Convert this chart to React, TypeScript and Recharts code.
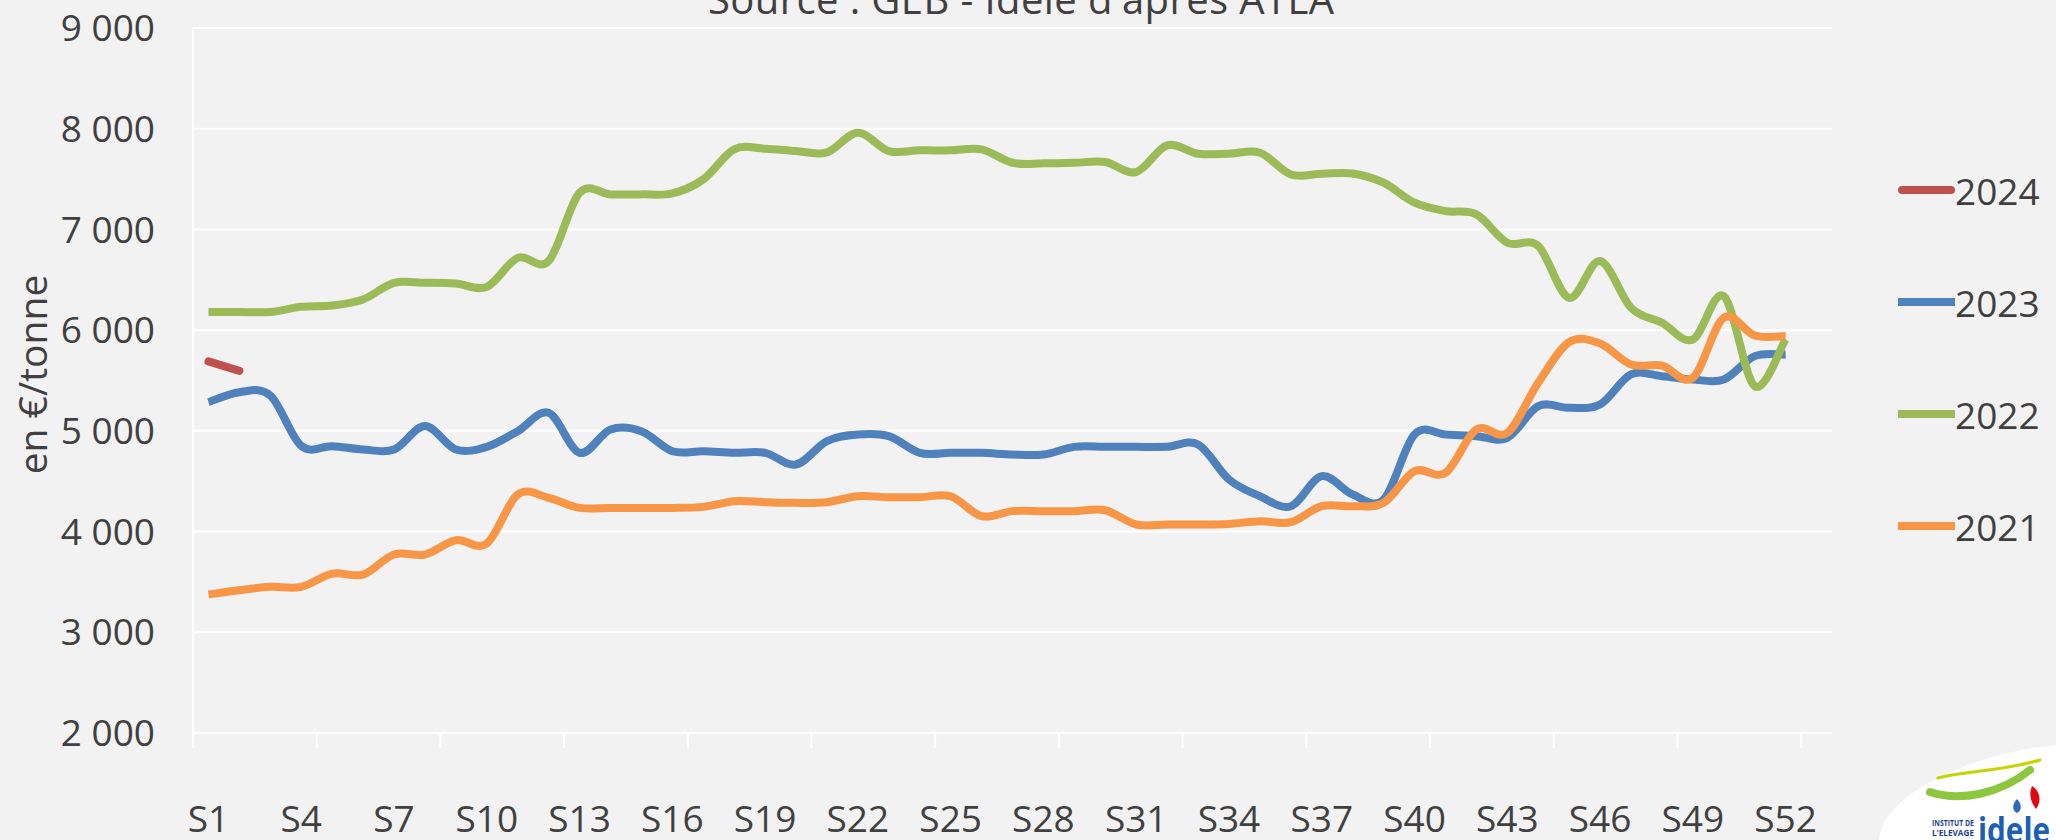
import React from 'react';
import { LineChart, Line, XAxis, YAxis, CartesianGrid, Legend } from 'recharts';

const weeks = [
  'S1', 'S2', 'S3', 'S4', 'S5', 'S6', 'S7', 'S8', 'S9', 'S10',
  'S11', 'S12', 'S13', 'S14', 'S15', 'S16', 'S17', 'S18', 'S19', 'S20',
  'S21', 'S22', 'S23', 'S24', 'S25', 'S26', 'S27', 'S28', 'S29', 'S30',
  'S31', 'S32', 'S33', 'S34', 'S35', 'S36', 'S37', 'S38', 'S39', 'S40',
  'S41', 'S42', 'S43', 'S44', 'S45', 'S46', 'S47', 'S48', 'S49', 'S50',
  'S51', 'S52', 'S53',
];

const v2024 = [5690, 5595];

const v2023 = [
  5285, 5384, 5351, 4850, 4848, 4815, 4815, 5047, 4815, 4841,
  4997, 5179, 4782, 5014, 4997, 4798, 4798, 4782, 4782, 4666,
  4898, 4964, 4947, 4782, 4782, 4782, 4765, 4765, 4841, 4841,
  4841, 4841, 4865, 4517, 4351, 4252, 4550, 4368, 4318, 4964,
  4964, 4947, 4931, 5245, 5229, 5262, 5560, 5543, 5510, 5510,
  5742, 5758,
];

const v2022 = [
  6180, 6180, 6180, 6232, 6245, 6305, 6470, 6470, 6464, 6430,
  6718, 6686, 7364, 7348, 7348, 7358, 7497, 7795, 7801, 7778,
  7765, 7960, 7778, 7785, 7785, 7795, 7662, 7656, 7662, 7669,
  7570, 7834, 7752, 7752, 7762, 7546, 7553, 7556, 7464, 7265,
  7182, 7149, 6868, 6835, 6321, 6686, 6222, 6073, 5907, 6338,
  5444, 5908,
];

const v2021 = [
  3375, 3418, 3451, 3451, 3583, 3573, 3772, 3772, 3914, 3881,
  4368, 4335, 4235, 4235, 4235, 4235, 4245, 4302, 4292, 4285,
  4292, 4351, 4341, 4341, 4351, 4153, 4203, 4203, 4203, 4212,
  4070, 4070, 4070, 4076, 4103, 4093, 4252, 4252, 4285, 4600,
  4583, 5014, 4980, 5477, 5881, 5868, 5659, 5649, 5527, 6123,
  5947, 5941,
];

const yTicks = [2000, 3000, 4000, 5000, 6000, 7000, 8000, 9000];
const legendOrder = ['2024', '2023', '2022', '2021'];
const roundCapSeries = ['2024'];

const data = weeks.map((w, i) => ({
  week: w,
  y2024: v2024[i] ?? null,
  y2023: v2023[i] ?? null,
  y2022: v2022[i] ?? null,
  y2021: v2021[i] ?? null,
}));

const FONT = "'Open Sans', 'DejaVu Sans', sans-serif";
const TEXT = '#404040';
const BG = '#f2f2f2';

// Excel-like smoothing (Catmull-Rom through the points)
const excelSmooth = (context: any) => {
  let pts: number[][] = [];
  return {
    areaStart() {},
    areaEnd() {},
    lineStart() {
      pts = [];
    },
    point(x: number, y: number) {
      pts.push([+x, +y]);
    },
    lineEnd() {
      const n = pts.length;
      if (!n) return;
      context.moveTo(pts[0][0], pts[0][1]);
      if (n === 1) {
        context.lineTo(pts[0][0], pts[0][1]);
        return;
      }
      for (let i = 0; i < n - 1; i++) {
        const p0 = pts[i === 0 ? 0 : i - 1];
        const p1 = pts[i];
        const p2 = pts[i + 1];
        const p3 = pts[i + 2 < n ? i + 2 : n - 1];
        context.bezierCurveTo(
          p1[0] + (p2[0] - p0[0]) / 6,
          p1[1] + (p2[1] - p0[1]) / 6,
          p2[0] - (p3[0] - p1[0]) / 6,
          p2[1] - (p3[1] - p1[1]) / 6,
          p2[0],
          p2[1]
        );
      }
    },
  };
};

const fmtThousands = (v: number) => {
  const th = Math.floor(v / 1000);
  const rest = String(v % 1000).padStart(3, '0');
  return `${th} ${rest}`;
};

const XTick = (props: any) => {
  const { x, y, payload } = props;
  const idx = payload?.index ?? props.index ?? 0;
  const half = typeof payload?.offset === 'number' ? payload.offset : 15.45;
  return (
    <g>
      {idx % 4 === 0 && (
        <line x1={x - half} x2={x - half} y1={y} y2={y + 15} stroke="#ffffff" strokeWidth={2} />
      )}
      {idx % 3 === 0 && (
        <text x={x} y={y + 99} textAnchor="middle" fill={TEXT} fontSize={37} fontFamily={FONT}>
          {payload.value}
        </text>
      )}
    </g>
  );
};

const YLabel = (props: any) => {
  const vb = props.viewBox || {};
  const cx = (vb.x ?? 0) + 31;
  const cy = (vb.y ?? 0) + (vb.height ?? 0) / 2 - 6;
  return (
    <text
      x={cx}
      y={cy}
      transform={`rotate(-90, ${cx}, ${cy})`}
      textAnchor="middle"
      dominantBaseline="central"
      fontSize={39}
      fill={TEXT}
      fontFamily={FONT}
    >
      en €/tonne
    </text>
  );
};

const renderLegend = (props: any) => {
  const items = [...(props.payload || [])].sort(
    (a: any, b: any) => legendOrder.indexOf(String(a.value)) - legendOrder.indexOf(String(b.value))
  );
  return (
    <div style={{ width: 158 }}>
      {items.map((it: any) => (
        <div key={it.value} style={{ height: 112, display: 'flex', alignItems: 'center' }}>
          <div
            style={{
              width: 57,
              height: 8,
              background: it.color,
              borderRadius: roundCapSeries.includes(String(it.value)) ? 4 : 0,
            }}
          />
          <span style={{ fontSize: 37, color: TEXT, fontFamily: FONT, lineHeight: 1 }}>{it.value}</span>
        </div>
      ))}
    </div>
  );
};

export default function App() {
  return (
    <div
      style={{
        position: 'absolute',
        left: 0,
        top: 0,
        width: 2056,
        height: 840,
        background: BG,
        overflow: 'hidden',
        fontFamily: FONT,
      }}
    >
      <LineChart
        width={2056}
        height={840}
        data={data}
        margin={{ top: 28, right: 66, bottom: 0, left: 0 }}
      >
        <CartesianGrid vertical={false} stroke="#ffffff" strokeWidth={2} />
        <XAxis
          dataKey="week"
          scale="band"
          interval={0}
          height={107}
          axisLine={false}
          tickLine={false}
          tickSize={0}
          tickMargin={0}
          tick={<XTick />}
        />
        <YAxis
          domain={[2000, 9000]}
          ticks={yTicks}
          width={193}
          axisLine={{ stroke: '#ffffff', strokeWidth: 2 }}
          tickLine={false}
          tickSize={0}
          tickMargin={38}
          tickFormatter={fmtThousands}
          tick={{ fill: TEXT, fontSize: 37, fontFamily: FONT }}
          label={<YLabel />}
        />
        <Legend
          layout="vertical"
          align="right"
          verticalAlign="top"
          content={renderLegend}
          wrapperStyle={{ right: 0, top: 134, left: 'auto' }}
        />
        <Line
          name="2024"
          dataKey="y2024"
          stroke="#c0504d"
          strokeWidth={8}
          strokeLinecap="round"
          type={excelSmooth as any}
          dot={false}
          activeDot={false}
          isAnimationActive={false}
        />
        <Line
          name="2023"
          dataKey="y2023"
          stroke="#4f81bd"
          strokeWidth={8}
          type={excelSmooth as any}
          dot={false}
          activeDot={false}
          isAnimationActive={false}
        />
        <Line
          name="2022"
          dataKey="y2022"
          stroke="#9bbb59"
          strokeWidth={8}
          type={excelSmooth as any}
          dot={false}
          activeDot={false}
          isAnimationActive={false}
        />
        <Line
          name="2021"
          dataKey="y2021"
          stroke="#f79646"
          strokeWidth={8}
          type={excelSmooth as any}
          dot={false}
          activeDot={false}
          isAnimationActive={false}
        />
      </LineChart>
      <svg
        width={2056}
        height={840}
        style={{ position: 'absolute', left: 0, top: 0, pointerEvents: 'none' }}
      >
        <text
          x={1021}
          y={14}
          textAnchor="middle"
          fill={TEXT}
          fontSize={40}
          fontFamily={FONT}
          textLength={626}
          lengthAdjust="spacing"
        >
          Source : GEB - Idele d'après ATLA
        </text>
        <path d="M1879 840 C1880 800 1960 755 2056 745 L2056 840 Z" fill="#ffffff" />
        <path d="M1930 792 C1960 802 2000 794 2030 770" stroke="#8dc63f" strokeWidth={8} fill="none" strokeLinecap="round" />
        <path d="M1938 778 C1968 770 1998 772 2040 760" stroke="#c8d400" strokeWidth={3} fill="none" strokeLinecap="round" />
        <path d="M2032 786 C2040 791 2042 801 2036 809 C2030 801 2029 793 2032 786 Z" fill="#e30613" />
        <path d="M2017 799 C2022 804 2022 811 2017 813 C2012 811 2012 804 2017 799 Z" fill="#2a6ebb" />
        <text x={1932} y={826} fill="#1d3f8f" fontSize={8} fontWeight="bold" fontFamily={FONT} textLength={42} lengthAdjust="spacingAndGlyphs">
          INSTITUT DE
        </text>
        <text x={1932} y={836} fill="#1d3f8f" fontSize={8} fontWeight="bold" fontFamily={FONT} textLength={42} lengthAdjust="spacingAndGlyphs">
          L'ELEVAGE
        </text>
        <text x={1978} y={843} fill="#1d5fb4" fontSize={36} fontWeight="bold" fontFamily={FONT} textLength={72} lengthAdjust="spacingAndGlyphs">
          idele
        </text>
      </svg>
    </div>
  );
}
